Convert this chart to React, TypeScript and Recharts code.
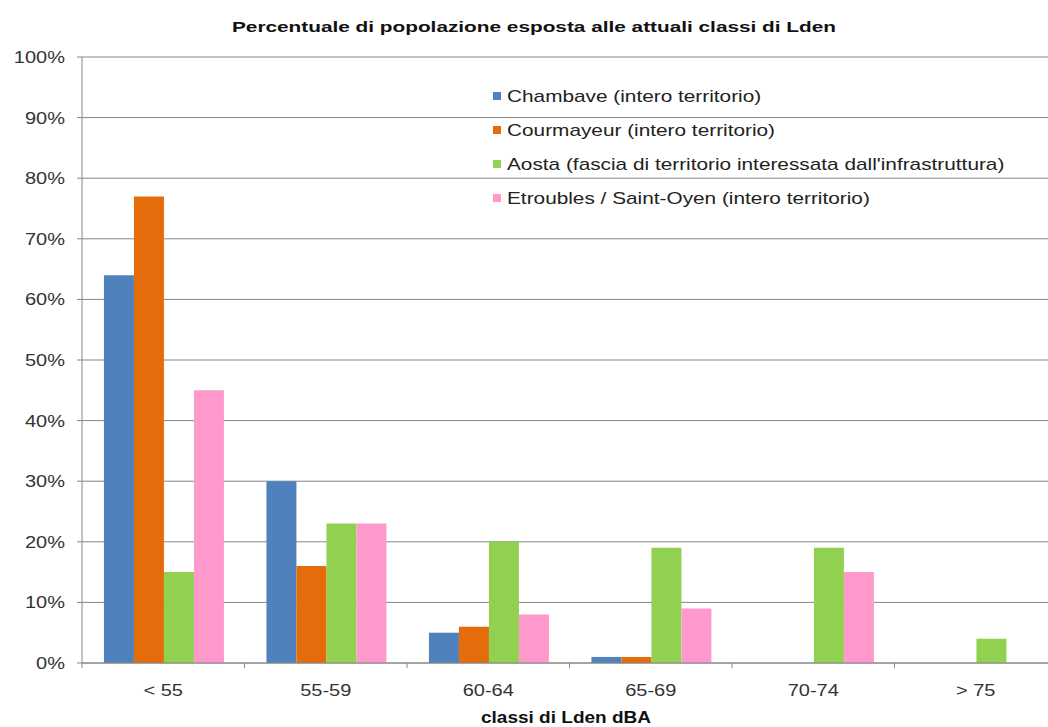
import { BarChart, Bar, XAxis, YAxis, CartesianGrid, Legend } from 'recharts'

const categories = ['< 55', '55-59', '60-64', '65-69', '70-74', '> 75']
const chambave = [64, 30, 5, 1, 0, 0]
const courmayeur = [77, 16, 6, 1, 0, 0]
const aosta = [15, 23, 20, 19, 19, 4]
const etroubles = [45, 23, 8, 9, 15, 0]
const yTicks = [0, 10, 20, 30, 40, 50, 60, 70, 80, 90, 100]

const series = [
  { key: 'chambave', name: 'Chambave (intero territorio)', color: '#4F81BD' },
  { key: 'courmayeur', name: 'Courmayeur (intero territorio)', color: '#E46C0A' },
  { key: 'aosta', name: "Aosta (fascia di territorio interessata dall'infrastruttura)", color: '#92D050' },
  { key: 'etroubles', name: 'Etroubles / Saint-Oyen (intero territorio)', color: '#FF99CC' },
]

const data = categories.map((c, i) => ({
  cat: c,
  chambave: chambave[i],
  courmayeur: courmayeur[i],
  aosta: aosta[i],
  etroubles: etroubles[i],
}))

const CHART_W = 1060
const MARGIN = { top: 57, right: 3, bottom: 0, left: 0 }
const Y_W = 82
const X_H = 64
const BAND = (CHART_W - MARGIN.right - MARGIN.left - Y_W) / categories.length
const STRETCH = 1.25
const FONT = '"Liberation Sans", Arial, sans-serif'
const GRID = '#868686'

function YTick({ x, y, payload }: any) {
  return (
    <g transform={`translate(${x},${y}) scale(${STRETCH},1)`}>
      <text textAnchor="end" dy={6} fontSize={16} fill="#333" fontFamily={FONT}>
        {payload.value}%
      </text>
    </g>
  )
}

function XTick({ x, y, payload }: any) {
  return (
    <g>
      <line x1={x - BAND / 2} x2={x - BAND / 2} y1={y} y2={y + 5} stroke={GRID} />
      <g transform={`translate(${x},${y + 33}) scale(${STRETCH},1)`}>
        <text textAnchor="middle" fontSize={16} fill="#333" fontFamily={FONT}>
          {payload.value}
        </text>
      </g>
    </g>
  )
}

function LegendBox() {
  return (
    <svg width={560} height={130} style={{ display: 'block', overflow: 'visible' }}>
      {series.map((s, i) => (
        <g key={s.key}>
          <rect x={5} y={10 + i * 34} width={8} height={8} fill={s.color} />
          <g transform={`translate(19,${20 + i * 34}) scale(1.3,1)`}>
            <text fontSize={16} fill="#222" fontFamily={FONT}>
              {s.name}
            </text>
          </g>
        </g>
      ))}
    </svg>
  )
}

export default function App() {
  return (
    <div
      style={{
        position: 'fixed',
        left: 0,
        top: 0,
        width: 1048,
        height: 727,
        overflow: 'hidden',
        background: '#fff',
      }}
    >
      <BarChart
        width={CHART_W}
        height={727}
        data={data}
        margin={MARGIN}
        barCategoryGap="13.5%"
        barGap={0}
      >
        <CartesianGrid vertical={false} stroke={GRID} strokeWidth={1} />
        <XAxis
          dataKey="cat"
          height={X_H}
          axisLine={{ stroke: GRID }}
          tickLine={false}
          tickSize={0}
          tickMargin={0}
          interval={0}
          tick={<XTick />}
        />
        <YAxis
          width={Y_W}
          domain={[0, 100]}
          ticks={yTicks}
          interval={0}
          axisLine={{ stroke: GRID }}
          tickLine={{ stroke: GRID }}
          tickSize={5}
          tickMargin={12}
          tick={<YTick />}
        />
        <Legend
          content={() => <LegendBox />}
          wrapperStyle={{
            position: 'absolute',
            left: 488,
            top: 82,
            width: 560,
            height: 0,
            overflow: 'visible',
          }}
        />
        {series.map((s) => (
          <Bar key={s.key} dataKey={s.key} name={s.name} fill={s.color} isAnimationActive={false} />
        ))}
      </BarChart>
      <svg
        width={1048}
        height={727}
        style={{ position: 'absolute', left: 0, top: 0, pointerEvents: 'none' }}
      >
        <text
          x={534}
          y={32}
          textAnchor="middle"
          fontSize={15}
          fontWeight="bold"
          fill="#111"
          fontFamily={FONT}
          textLength={604}
          lengthAdjust="spacingAndGlyphs"
        >
          Percentuale di popolazione esposta alle attuali classi di Lden
        </text>
        <text
          x={566}
          y={723}
          textAnchor="middle"
          fontSize={16}
          fontWeight="bold"
          fill="#111"
          fontFamily={FONT}
          textLength={170}
          lengthAdjust="spacingAndGlyphs"
        >
          classi di Lden dBA
        </text>
      </svg>
    </div>
  )
}
